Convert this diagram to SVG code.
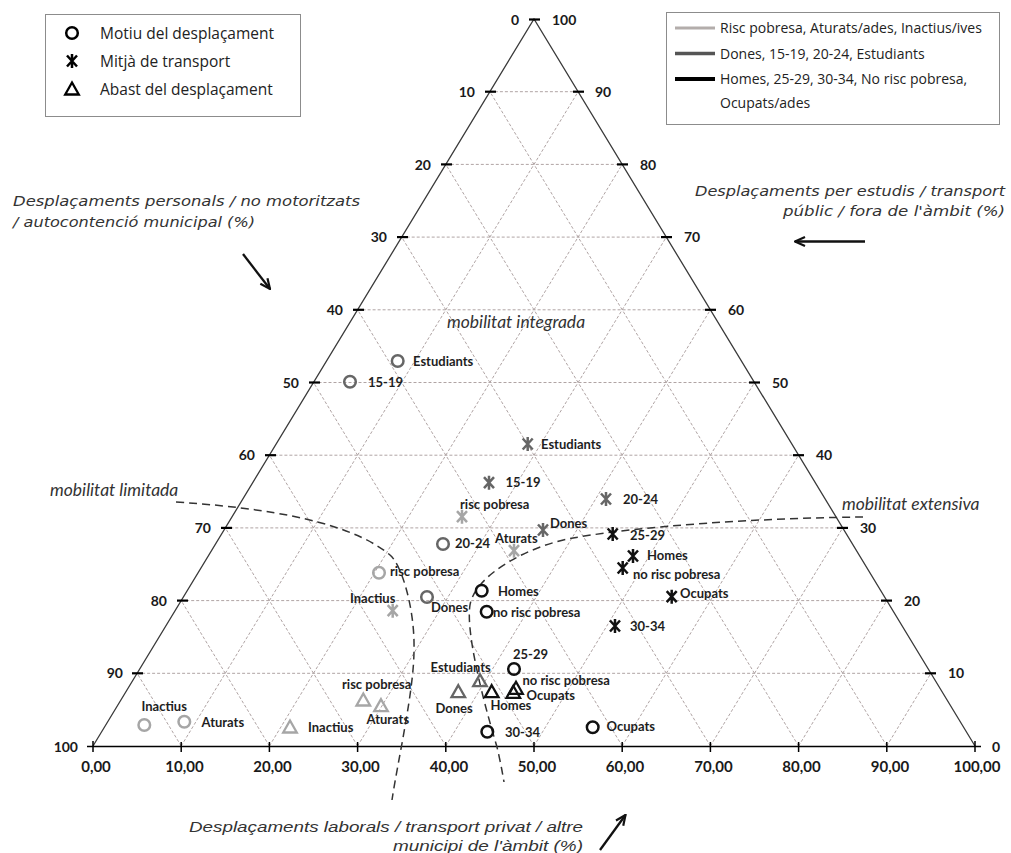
<svg xmlns="http://www.w3.org/2000/svg" width="1011" height="853" viewBox="0 0 1011 853">
<style>
.bg{fill:#fff}
.grid line{stroke:#b0a4a4;stroke-width:1;stroke-dasharray:3 2}
.side{stroke:#3a3a3a;stroke-width:1.3;fill:none}
.tick{stroke:#000;stroke-width:2.2}
.num{font-family:Lato,"Liberation Sans",sans-serif;font-weight:700;font-size:14px;fill:#1a1a1a}
.bnum{font-family:Lato,"Liberation Sans",sans-serif;font-weight:700;font-size:15px;fill:#1a1a1a;text-anchor:middle}
.lbl{font-family:Lato,"Liberation Sans",sans-serif;font-weight:700;font-size:13px;fill:#1e1e1e}
.leg{font-family:"Open Sans","Liberation Sans",sans-serif;font-size:15.5px;fill:#222}
.leg2{font-family:"Open Sans","Liberation Sans",sans-serif;font-size:14px;fill:#222}
.ax{font-family:"DejaVu Sans","Liberation Sans",sans-serif;font-style:italic;font-size:13.5px;fill:#333}
.axb{font-family:"Liberation Sans",sans-serif;font-style:italic;font-size:15px;fill:#333}
.mob{font-family:Lato,"Liberation Sans",sans-serif;font-style:italic;font-size:17.5px;fill:#333}
.box{fill:#fff;stroke:#8c8c8c;stroke-width:1}
.curve{fill:none;stroke:#333;stroke-width:1.5;stroke-dasharray:8 5}
.arr{fill:none;stroke:#111;stroke-width:2.3}
.lt{stroke:#a6a6a6}
.dk{stroke:#666}
.bk{stroke:#111}
</style>
<defs>
<g id="circ"><circle r="5.8" fill="none" stroke-width="2.5"/></g>
<g id="star"><path d="M-5,-5.5 L5,5.5 M-5,5.5 L5,-5.5 M0,-7 L0,7" fill="none" stroke-width="2.5"/></g>
<g id="tri"><path d="M0,-6.5 L6.8,5.5 L-6.8,5.5 Z" fill="none" stroke-width="2.3" stroke-linejoin="miter"/></g>
<marker id="ah" viewBox="0 0 12 12" refX="11" refY="6" markerWidth="12" markerHeight="12" orient="auto" markerUnits="userSpaceOnUse"><path d="M1,1.5 L11,6 L1,10.5" fill="none" stroke="#111" stroke-width="2.2"/></marker>
</defs>
<rect class="bg" x="0" y="0" width="1011" height="853"/>

<g id="grid" class="grid">
<line x1="489.9" y1="91.7" x2="578.1" y2="91.7"/>
<line x1="445.8" y1="164.4" x2="622.2" y2="164.4"/>
<line x1="401.7" y1="237.1" x2="666.3" y2="237.1"/>
<line x1="357.6" y1="309.8" x2="710.4" y2="309.8"/>
<line x1="313.5" y1="382.5" x2="754.5" y2="382.5"/>
<line x1="269.4" y1="455.2" x2="798.6" y2="455.2"/>
<line x1="225.3" y1="527.9" x2="842.7" y2="527.9"/>
<line x1="181.2" y1="600.6" x2="886.8" y2="600.6"/>
<line x1="137.1" y1="673.3" x2="930.9" y2="673.3"/>
<line x1="181.2" y1="746" x2="578.1" y2="91.7"/>
<line x1="269.4" y1="746" x2="622.2" y2="164.4"/>
<line x1="357.6" y1="746" x2="666.3" y2="237.1"/>
<line x1="445.8" y1="746" x2="710.4" y2="309.8"/>
<line x1="534" y1="746" x2="754.5" y2="382.5"/>
<line x1="622.2" y1="746" x2="798.6" y2="455.2"/>
<line x1="710.4" y1="746" x2="842.7" y2="527.9"/>
<line x1="798.6" y1="746" x2="886.8" y2="600.6"/>
<line x1="886.8" y1="746" x2="930.9" y2="673.3"/>
<line x1="181.2" y1="746" x2="137.1" y2="673.3"/>
<line x1="269.4" y1="746" x2="181.2" y2="600.6"/>
<line x1="357.6" y1="746" x2="225.3" y2="527.9"/>
<line x1="445.8" y1="746" x2="269.4" y2="455.2"/>
<line x1="534" y1="746" x2="313.5" y2="382.5"/>
<line x1="622.2" y1="746" x2="357.6" y2="309.8"/>
<line x1="710.4" y1="746" x2="401.7" y2="237.1"/>
<line x1="798.6" y1="746" x2="445.8" y2="164.4"/>
<line x1="886.8" y1="746" x2="489.9" y2="91.7"/>
</g>

<g id="axes">
<path class="side" d="M93,746 L534,19 L975,746"/>
<line x1="87" y1="746.5" x2="981" y2="746.5" stroke="#000" stroke-width="1.6"/>
<g class="tick">
<line x1="529" y1="19.5" x2="540" y2="19.5"/>
<line x1="485" y1="91.7" x2="496" y2="91.7"/><line x1="573" y1="91.7" x2="584" y2="91.7"/>
<line x1="441" y1="164.4" x2="452" y2="164.4"/><line x1="617" y1="164.4" x2="628" y2="164.4"/>
<line x1="397" y1="237.1" x2="408" y2="237.1"/><line x1="661" y1="237.1" x2="672" y2="237.1"/>
<line x1="353" y1="309.8" x2="364" y2="309.8"/><line x1="705" y1="309.8" x2="716" y2="309.8"/>
<line x1="309" y1="382.5" x2="320" y2="382.5"/><line x1="749" y1="382.5" x2="760" y2="382.5"/>
<line x1="265" y1="455.2" x2="276" y2="455.2"/><line x1="793" y1="455.2" x2="804" y2="455.2"/>
<line x1="221" y1="527.9" x2="232" y2="527.9"/><line x1="837" y1="527.9" x2="848" y2="527.9"/>
<line x1="177" y1="600.6" x2="188" y2="600.6"/><line x1="881" y1="600.6" x2="892" y2="600.6"/>
<line x1="132" y1="673.3" x2="143" y2="673.3"/><line x1="925" y1="673.3" x2="936" y2="673.3"/>
</g>
<g stroke="#000" stroke-width="1.5">
<line x1="93" y1="741" x2="93" y2="752"/>
<line x1="181.2" y1="742" x2="181.2" y2="752"/>
<line x1="269.4" y1="742" x2="269.4" y2="752"/>
<line x1="357.6" y1="742" x2="357.6" y2="752"/>
<line x1="445.8" y1="742" x2="445.8" y2="752"/>
<line x1="534" y1="742" x2="534" y2="752"/>
<line x1="622.2" y1="742" x2="622.2" y2="752"/>
<line x1="710.4" y1="742" x2="710.4" y2="752"/>
<line x1="798.6" y1="742" x2="798.6" y2="752"/>
<line x1="886.8" y1="742" x2="886.8" y2="752"/>
<line x1="975" y1="741" x2="975" y2="752"/>
</g>
<g class="num" text-anchor="end">
<text x="519" y="24.5">0</text>
<text x="475" y="96.5">10</text>
<text x="431" y="169.5">20</text>
<text x="387" y="242">30</text>
<text x="343" y="315">40</text>
<text x="299" y="387.5">50</text>
<text x="255" y="460">60</text>
<text x="211" y="533">70</text>
<text x="167" y="605.5">80</text>
<text x="123" y="678">90</text>
<text x="78" y="751.5">100</text>
</g>
<g class="num">
<text x="552" y="24.5">100</text>
<text x="595" y="96.5">90</text>
<text x="640" y="169.5">80</text>
<text x="684" y="242">70</text>
<text x="728" y="315">60</text>
<text x="772" y="387.5">50</text>
<text x="816" y="460">40</text>
<text x="860" y="533">30</text>
<text x="904" y="605.5">20</text>
<text x="948" y="678">10</text>
<text x="992" y="751.5">0</text>
</g>
<g class="bnum">
<text x="96" y="772">0,00</text>
<text x="184.5" y="772">10,00</text>
<text x="272.5" y="772">20,00</text>
<text x="360.5" y="772">30,00</text>
<text x="449" y="772">40,00</text>
<text x="537" y="772">50,00</text>
<text x="625" y="772">60,00</text>
<text x="713.5" y="772">70,00</text>
<text x="801.5" y="772">80,00</text>
<text x="890" y="772">90,00</text>
<text x="977" y="772">100,00</text>
</g>
</g>

<g id="legend-symbols">
<rect class="box" x="45.5" y="14.5" width="255" height="102"/>
<use href="#circ" x="72" y="33" stroke="#000"/>
<use href="#star" x="72" y="61" stroke="#000"/>
<use href="#tri" x="72" y="89" stroke="#000"/>
<text class="leg" x="100" y="38.5">Motiu del desplaçament</text>
<text class="leg" x="100" y="66.5">Mitjà de transport</text>
<text class="leg" x="100" y="94.5">Abast del desplaçament</text>
</g>

<g id="legend-groups">
<rect class="box" x="666.5" y="12.5" width="333" height="112"/>
<line x1="675" y1="28" x2="715" y2="28" stroke="#b3adab" stroke-width="3"/>
<line x1="675" y1="53.5" x2="715" y2="53.5" stroke="#555" stroke-width="3.5"/>
<line x1="675" y1="79" x2="715" y2="79" stroke="#000" stroke-width="4"/>
<text class="leg2" x="720" y="33">Risc pobresa, Aturats/ades, Inactius/ives</text>
<text class="leg2" x="720" y="58.5">Dones, 15-19, 20-24, Estudiants</text>
<text class="leg2" x="720" y="84">Homes, 25-29, 30-34, No risc pobresa,</text>
<text class="leg2" x="720" y="108">Ocupats/ades</text>
</g>

<g id="axis-titles">
<text class="ax" x="13" y="206" textLength="347" lengthAdjust="spacingAndGlyphs">Desplaçaments personals / no motoritzats</text>
<text class="ax" x="13" y="227" textLength="242" lengthAdjust="spacingAndGlyphs">/ autocontenció municipal (%)</text>
<text class="ax" x="695" y="196" textLength="310" lengthAdjust="spacingAndGlyphs">Desplaçaments per estudis / transport</text>
<text class="ax" x="783" y="215.5" textLength="222" lengthAdjust="spacingAndGlyphs">públic / fora de l'àmbit (%)</text>
<text class="axb" x="189" y="831.5" textLength="394" lengthAdjust="spacingAndGlyphs">Desplaçaments laborals / transport privat / altre</text>
<text class="axb" x="393" y="851" textLength="190" lengthAdjust="spacingAndGlyphs">municipi de l'àmbit (%)</text>
<text class="mob" x="447" y="328">mobilitat integrada</text>
<text class="mob" x="50" y="496">mobilitat limitada</text>
<text class="mob" x="842" y="509.5">mobilitat extensiva</text>
</g>

<g id="connectors">
<path id="curve-limitada" class="curve" d="M176,502 C300,510 360,530 390,555 C402,565 415,610 414,650 C414,690 398,760 392,800"/>
<path id="curve-extensiva" class="curve" d="M863,517 C760,518 640,526 573,538 C528,546 475,575 470,605 C466,630 480,690 497,747 C500,760 502,770 504,782"/>
<line id="arrow-left" class="arr" x1="243" y1="254" x2="270" y2="289" marker-end="url(#ah)"/>
<line id="arrow-right" class="arr" x1="865" y1="241.5" x2="795" y2="241.5" marker-end="url(#ah)"/>
<line id="arrow-bottom" class="arr" x1="600" y1="850" x2="625.5" y2="815" marker-end="url(#ah)"/>
</g>

<g id="motiu">
<g id="m-estudiants"><use href="#circ" x="397.7" y="361" class="dk"/><text class="lbl" x="413" y="365.5">Estudiants</text></g>
<g id="m-1519"><use href="#circ" x="350" y="381.7" class="dk"/><text class="lbl" x="368" y="386.5">15-19</text></g>
<g id="m-2024"><use href="#circ" x="443" y="544" class="dk"/><text class="lbl" x="455" y="547.5">20-24</text></g>
<g id="m-dones"><use href="#circ" x="427" y="597" class="dk"/><text class="lbl" x="431" y="611.5">Dones</text></g>
<g id="m-risc"><use href="#circ" x="379" y="572.7" class="lt"/><text class="lbl" x="390" y="575.5">risc pobresa</text></g>
<g id="m-inactius"><use href="#circ" x="144.3" y="725" class="lt"/><text class="lbl" x="141.5" y="711">Inactius</text></g>
<g id="m-aturats"><use href="#circ" x="184.3" y="721.7" class="lt"/><text class="lbl" x="201.5" y="727">Aturats</text></g>
<g id="m-homes"><use href="#circ" x="481.7" y="590.7" class="bk"/><text class="lbl" x="498" y="596">Homes</text></g>
<g id="m-norisc"><use href="#circ" x="486.7" y="611.7" class="bk"/><text class="lbl" x="493" y="616.5">no risc pobresa</text></g>
<g id="m-2529"><use href="#circ" x="514" y="669" class="bk"/><text class="lbl" x="513" y="658.5">25-29</text></g>
<g id="m-3034"><use href="#circ" x="487.3" y="731.7" class="bk"/><text class="lbl" x="505" y="736.5">30-34</text></g>
<g id="m-ocupats"><use href="#circ" x="592.7" y="727.3" class="bk"/><text class="lbl" x="606.5" y="731">Ocupats</text></g>
</g>

<g id="mitja">
<g id="t-estudiants"><use href="#star" x="527.7" y="444" class="dk"/><text class="lbl" x="541" y="448.5">Estudiants</text></g>
<g id="t-1519"><use href="#star" x="489" y="482.7" class="dk"/><text class="lbl" x="505.5" y="487">15-19</text></g>
<g id="t-risc"><use href="#star" x="462" y="516.7" class="lt"/><text class="lbl" x="460" y="508.5">risc pobresa</text></g>
<g id="t-dones"><use href="#star" x="543" y="530" class="dk"/><text class="lbl" x="550" y="527.5">Dones</text></g>
<g id="t-2024"><use href="#star" x="606" y="499" class="dk"/><text class="lbl" x="623" y="503.5">20-24</text></g>
<g id="t-aturats"><use href="#star" x="514" y="550.7" class="lt"/><text class="lbl" x="495" y="542.5">Aturats</text></g>
<g id="t-inactius"><use href="#star" x="392.7" y="610.7" class="lt"/><text class="lbl" x="350" y="602.5">Inactius</text></g>
<g id="t-2529"><use href="#star" x="612.7" y="534" class="bk"/><text class="lbl" x="630" y="539.5">25-29</text></g>
<g id="t-homes"><use href="#star" x="633" y="556" class="bk"/><text class="lbl" x="647" y="559.5">Homes</text></g>
<g id="t-norisc"><use href="#star" x="622.7" y="568" class="bk"/><text class="lbl" x="633" y="578.5">no risc pobresa</text></g>
<g id="t-ocupats"><use href="#star" x="671.7" y="596.7" class="bk"/><text class="lbl" x="680" y="597.5">Ocupats</text></g>
<g id="t-3034"><use href="#star" x="615" y="626" class="bk"/><text class="lbl" x="630" y="630.5">30-34</text></g>
</g>

<g id="abast">
<g id="a-inactius"><use href="#tri" x="290" y="727" class="lt"/><text class="lbl" x="308" y="731.5">Inactius</text></g>
<g id="a-risc"><use href="#tri" x="363.3" y="700" class="lt"/><text class="lbl" x="342" y="688.5">risc pobresa</text></g>
<g id="a-aturats"><use href="#tri" x="381" y="705.7" class="lt"/><text class="lbl" x="366.5" y="723.5">Aturats</text></g>
<g id="a-estudiants"><use href="#tri" x="480" y="680.7" class="dk"/><text class="lbl" x="430.5" y="672">Estudiants</text></g>
<g id="a-dones"><use href="#tri" x="458.3" y="691.7" class="dk"/><text class="lbl" x="435.5" y="712.5">Dones</text></g>
<g id="a-homes"><use href="#tri" x="491.7" y="691.7" class="bk"/><text class="lbl" x="490.5" y="709.5">Homes</text></g>
<g id="a-norisc"><use href="#tri" x="516" y="688.3" class="bk"/><text class="lbl" x="522.5" y="684.5">no risc pobresa</text></g>
<g id="a-ocupats"><use href="#tri" x="513.3" y="692.3" class="bk"/><text class="lbl" x="526.5" y="700">Ocupats</text></g>
</g>
</svg>
